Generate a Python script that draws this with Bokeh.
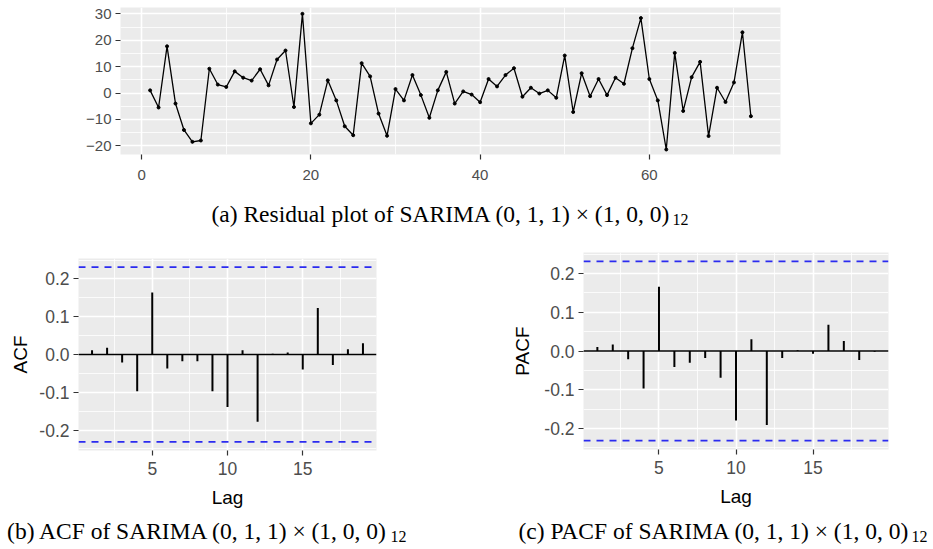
from bokeh.plotting import figure
from bokeh.layouts import column, row
from bokeh.models import Range1d, FixedTicker, NumeralTickFormatter, Span
from bokeh.embed import file_html
from bokeh.resources import INLINE
from bokeh.core.properties import value

# ---------------- data ----------------
time_index = list(range(1, 73))
residuals = [1.0, -5.5, 17.7, -4.0, -14.0, -18.5, -18.0, 9.2, 3.2, 2.3,
             8.2, 5.8, 4.7, 9.0, 2.9, 12.7, 16.1, -5.3, 30.0, -11.5,
             -8.2, 4.8, -2.8, -12.6, -16.0, 11.3, 6.3, -7.8, -16.2, 1.5,
             -2.8, 6.8, -0.8, -9.4, 1.0, 8.0, -4.0, 0.6, -0.6, -3.5,
             5.3, 2.5, 6.8, 9.4, -1.4, 2.0, -0.2, 1.0, -1.8, 14.2,
             -7.2, 7.5, -1.2, 5.3, -0.8, 5.8, 3.5, 17.0, 28.4, 5.3,
             -2.8, -21.4, 15.2, -6.8, 6.0, 11.8, -16.3, 2.0, -3.4, 4.0,
             23.0, -8.8]

lags = list(range(1, 20))
acf_values = [0.011, 0.018, -0.021, -0.097, 0.164, -0.037, -0.018, -0.018, -0.097, -0.139,
              0.011, -0.178, 0.002, 0.005, -0.040, 0.123, -0.028, 0.014, 0.030]
pacf_values = [0.010, 0.017, -0.021, -0.097, 0.166, -0.041, -0.030, -0.018, -0.069, -0.179,
               0.030, -0.191, -0.018, 0.002, -0.007, 0.068, 0.026, -0.023, -0.002]
conf_bound = 0.231  # 1.96 / sqrt(72)

resid_x_ticks = [0, 20, 40, 60]
resid_x_minor = [10, 30, 50, 70]
resid_y_ticks = [-20, -10, 0, 10, 20, 30]
resid_y_minor = [-15, -5, 5, 15, 25]
lag_ticks = [5, 10, 15]
lag_minor = [2.5, 7.5, 12.5, 17.5]
cf_ticks = [-0.2, -0.1, 0.0, 0.1, 0.2]
cf_minor = [-0.25, -0.15, -0.05, 0.05, 0.15, 0.25]

caption_a = "(a) Residual plot of SARIMA (0, 1, 1) × (1, 0, 0)"
caption_b = "(b) ACF of SARIMA (0, 1, 1) × (1, 0, 0)"
caption_c = "(c) PACF of SARIMA (0, 1, 1) × (1, 0, 0)"
caption_sub = "12"

PANEL = "#EBEBEB"
SANS = "Liberation Sans"
SERIF = "Liberation Serif"
CAP_SIZE = "23.5px"
SUB_SIZE = "16px"


def style(p, xt, xm, yt, ym, tick_size):
    p.background_fill_color = PANEL
    p.border_fill_color = "white"
    p.outline_line_color = None
    p.xaxis.ticker = FixedTicker(ticks=xt, minor_ticks=xm)
    p.yaxis.ticker = FixedTicker(ticks=yt, minor_ticks=ym)
    for g in (p.xgrid, p.ygrid):
        g.grid_line_color = "white"
        g.grid_line_width = 1.6
        g.minor_grid_line_color = "white"
        g.minor_grid_line_width = 0.8
    for ax in (p.xaxis, p.yaxis):
        ax.axis_line_color = None
        ax.major_tick_line_color = "#333333"
        ax.major_tick_line_width = 1.2
        ax.major_tick_out = 5
        ax.major_tick_in = 0
        ax.minor_tick_line_color = None
        ax.major_label_text_color = "#4D4D4D"
        ax.major_label_text_font = SANS
        ax.major_label_text_font_size = tick_size
        ax.axis_label_text_font = SANS
        ax.axis_label_text_font_style = "normal"
        ax.axis_label_text_font_size = "19px"
        ax.axis_label_text_color = "black"


def blank(width, height):
    p = figure(width=width, height=height, x_range=Range1d(0, width), y_range=Range1d(height, 0),
               output_backend="svg", toolbar_location=None, x_axis_type=None, y_axis_type=None,
               min_border=0)
    p.outline_line_color = None
    p.grid.visible = False
    return p


# ---------------- residual plot ----------------
top = figure(width=933, height=185, x_range=Range1d(-2.5, 75.5), y_range=Range1d(-23.3, 32.4),
             output_backend="svg", toolbar_location=None,
             min_border_left=120, min_border_right=153, min_border_top=7, min_border_bottom=31)
style(top, resid_x_ticks, resid_x_minor, resid_y_ticks, resid_y_minor, "15px")
top.xaxis.major_label_standoff = 10
top.yaxis.major_label_standoff = 4
top.line(time_index, residuals, line_color="black", line_width=1.3)
top.scatter(time_index, residuals, size=3, color="black")

# ---------------- caption a ----------------
cap_a = blank(933, 55)
cap_a.text(x=[670], y=[28], text=[caption_a], text_align="right", text_baseline="middle",
           text_font=value(SERIF), text_font_size=CAP_SIZE, text_color="black")
cap_a.text(x=[672], y=[34], text=[caption_sub], text_align="left", text_baseline="middle",
           text_font=value(SERIF), text_font_size=SUB_SIZE, text_color="black")


# ---------------- ACF / PACF ----------------
def cf_plot(vals, ylab, width, bl, br, bt, bb, ystand):
    p = figure(width=width, height=272, x_range=Range1d(0.1, 19.9), y_range=Range1d(-0.254, 0.254),
               output_backend="svg", toolbar_location=None,
               min_border_left=bl, min_border_right=br, min_border_top=bt, min_border_bottom=bb)
    style(p, lag_ticks, lag_minor, cf_ticks, cf_minor, "17.5px")
    p.yaxis.formatter = NumeralTickFormatter(format="0.0")
    p.xaxis.axis_label = "Lag"
    p.yaxis.axis_label = ylab
    p.xaxis.major_label_standoff = 6
    p.yaxis.major_label_standoff = 4
    p.xaxis.axis_label_standoff = 9
    p.yaxis.axis_label_standoff = ystand
    p.add_layout(Span(location=0, dimension="width", line_color="black", line_width=1.6))
    p.segment(x0=lags, y0=[0] * len(lags), x1=lags, y1=vals, line_color="black", line_width=2)
    for loc in (conf_bound, -conf_bound):
        p.add_layout(Span(location=loc, dimension="width", line_color="#2B2BF0",
                          line_width=1.8, line_dash="7 6"))
    return p


acf_p = cf_plot(acf_values, "ACF", 460, 78, 84, 18, 62, 5)
pacf_p = cf_plot(pacf_values, "PACF", 473, 123, 45, 12, 63, 8)

# ---------------- captions b, c ----------------
cap_bc = blank(933, 37)
cap_bc.text(x=[388, 909], y=[18, 18], text=[caption_b, caption_c], text_align="right",
            text_baseline="middle", text_font=value(SERIF), text_font_size=CAP_SIZE,
            text_color="black")
cap_bc.text(x=[390, 911], y=[24, 24], text=[caption_sub, caption_sub], text_align="left",
            text_baseline="middle", text_font=value(SERIF), text_font_size=SUB_SIZE,
            text_color="black")

layout = column(row(top), row(cap_a), row(column(acf_p), column(pacf_p)), row(cap_bc))
open("out.html", "w").write(file_html(layout, INLINE))
